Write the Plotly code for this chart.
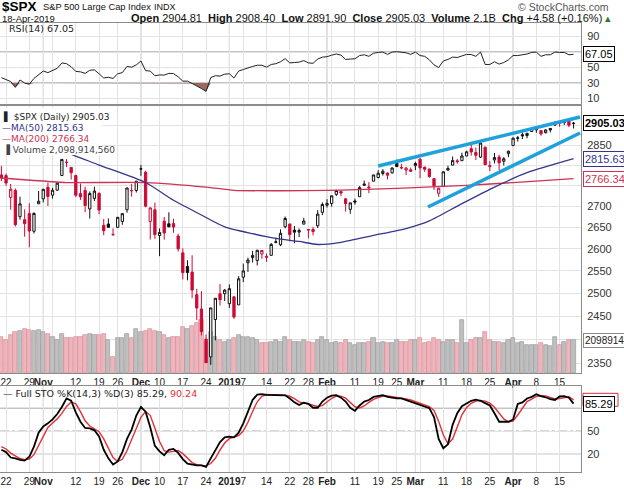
import math
import plotly.graph_objects as go

# ---------------- data ----------------
trade_days = [
    ("2018-10", [19, 22, 23, 24, 25, 26, 29, 30, 31]),
    ("2018-11", [1, 2, 5, 6, 7, 8, 9, 12, 13, 14, 15, 16, 19, 20, 21, 23, 26, 27, 28, 29, 30]),
    ("2018-12", [3, 4, 6, 7, 10, 11, 12, 13, 14, 17, 18, 19, 20, 21, 24, 26, 27, 28, 31]),
    ("2019-01", [2, 3, 4, 7, 8, 9, 10, 11, 14, 15, 16, 17, 18, 22, 23, 24, 25, 28, 29, 30, 31]),
    ("2019-02", [1, 4, 5, 6, 7, 8, 11, 12, 13, 14, 15, 19, 20, 21, 22, 25, 26, 27, 28]),
    ("2019-03", [1, 4, 5, 6, 7, 8, 11, 12, 13, 14, 15, 18, 19, 20, 21, 22, 25, 26, 27, 28, 29]),
    ("2019-04", [1, 2, 3, 4, 5, 8, 9, 10, 11, 12, 15, 16, 17, 18]),
]
dates = [f"{ym}-{d:02d}" for ym, ds in trade_days for d in ds]

prev_close = 2768.78

opens = [2775.66, 2773.94, 2721.03, 2737.87, 2674.88, 2667.86, 2682.65, 2640.68, 2705.60,
         2717.58, 2745.45, 2726.37, 2738.40, 2774.13, 2806.38, 2794.10, 2773.93, 2730.05, 2737.90, 2693.52,
         2718.54, 2730.74, 2654.60, 2657.74, 2633.36, 2649.97, 2663.75, 2691.45, 2736.97, 2737.76,
         2790.50, 2782.43, 2663.51, 2691.26, 2630.86, 2664.44, 2658.23, 2658.70, 2629.68, 2590.75,
         2559.90, 2547.05, 2496.77, 2465.38, 2400.56, 2363.12, 2442.50, 2498.77, 2498.94,
         2476.96, 2491.92, 2474.33, 2535.61, 2568.11, 2580.00, 2573.51, 2588.11, 2580.31, 2585.10,
         2614.75, 2609.28, 2651.27, 2657.88, 2643.48, 2638.84, 2657.44, 2644.97, 2644.89, 2653.62, 2685.49,
         2702.32, 2706.49, 2728.34, 2735.05, 2717.53, 2692.36, 2712.40, 2722.61, 2750.30, 2743.50,
         2760.24, 2769.28, 2779.05, 2780.24, 2780.67, 2804.35, 2792.36, 2787.50, 2788.11,
         2798.22, 2814.37, 2794.41, 2790.27, 2766.53, 2730.79, 2747.61, 2787.34, 2799.78, 2810.38,
         2810.79, 2822.61, 2840.76, 2831.34, 2819.72, 2844.52, 2796.01, 2812.66, 2819.72, 2809.40, 2828.27,
         2848.63, 2868.24, 2876.09, 2873.99, 2884.16, 2888.46, 2886.58, 2881.37, 2891.92, 2900.86,
         2908.32, 2912.26, 2916.04, 2904.81]
highs = [2797.77, 2778.94, 2753.59, 2742.59, 2722.70, 2692.38, 2706.85, 2685.43, 2736.69,
         2741.67, 2756.55, 2744.27, 2756.82, 2815.15, 2814.75, 2794.10, 2775.99, 2754.60, 2746.80, 2735.38,
         2746.75, 2733.16, 2669.44, 2670.73, 2647.55, 2674.35, 2682.53, 2744.00, 2753.75, 2760.88,
         2800.18, 2785.93, 2696.15, 2708.54, 2647.51, 2674.35, 2685.44, 2670.19, 2635.07, 2601.13,
         2573.99, 2585.29, 2509.63, 2504.41, 2410.34, 2467.76, 2489.10, 2520.27, 2509.24,
         2519.49, 2493.14, 2538.07, 2566.16, 2579.82, 2595.32, 2597.82, 2596.27, 2589.32, 2613.08,
         2625.76, 2645.06, 2675.47, 2657.88, 2653.19, 2647.20, 2672.38, 2644.97, 2650.93, 2690.44, 2708.95,
         2716.66, 2724.99, 2738.98, 2738.08, 2719.32, 2708.07, 2718.05, 2748.19, 2761.85, 2757.90,
         2775.66, 2787.33, 2789.88, 2781.58, 2794.20, 2813.49, 2803.12, 2795.76, 2793.73,
         2808.02, 2816.88, 2796.44, 2790.27, 2767.25, 2744.13, 2784.00, 2798.32, 2821.24, 2815.00,
         2830.73, 2835.41, 2852.42, 2843.54, 2860.31, 2846.16, 2809.79, 2829.87, 2825.56, 2819.71, 2836.03,
         2869.40, 2872.90, 2885.25, 2881.28, 2893.24, 2895.95, 2886.88, 2889.71, 2893.42, 2910.54,
         2909.60, 2916.06, 2918.00, 2908.40]
lows = [2760.27, 2749.22, 2691.43, 2651.89, 2667.84, 2628.16, 2603.54, 2635.34, 2705.60,
        2708.85, 2700.44, 2717.94, 2737.08, 2774.13, 2794.99, 2764.24, 2722.00, 2714.98, 2685.75, 2670.75,
        2712.16, 2681.09, 2631.52, 2649.82, 2631.09, 2649.97, 2655.89, 2684.38, 2722.94, 2732.76,
        2773.38, 2697.18, 2621.53, 2623.14, 2583.23, 2621.30, 2650.26, 2637.27, 2593.84, 2530.54,
        2528.71, 2488.96, 2441.18, 2408.55, 2351.10, 2346.58, 2397.94, 2472.89, 2482.82,
        2467.47, 2443.96, 2474.33, 2524.56, 2547.56, 2568.89, 2562.02, 2577.40, 2570.41, 2585.10,
        2612.68, 2606.36, 2647.58, 2617.27, 2612.86, 2627.01, 2657.33, 2624.06, 2631.05, 2648.34, 2678.65,
        2696.88, 2698.75, 2724.03, 2724.15, 2687.26, 2681.83, 2703.79, 2722.61, 2748.63, 2731.23,
        2760.24, 2767.29, 2774.06, 2764.55, 2779.11, 2794.99, 2789.47, 2775.13, 2782.51,
        2787.38, 2767.66, 2782.97, 2768.69, 2739.09, 2722.27, 2747.61, 2786.73, 2799.78, 2803.46,
        2810.79, 2821.99, 2823.27, 2812.43, 2817.38, 2800.47, 2785.02, 2803.99, 2787.72, 2798.77, 2819.23,
        2848.63, 2858.75, 2865.17, 2867.14, 2882.99, 2880.78, 2873.33, 2879.13, 2881.99, 2898.37,
        2896.48, 2900.71, 2895.45, 2891.90]
closes = [2767.78, 2755.88, 2740.69, 2656.10, 2705.57, 2658.69, 2641.25, 2682.63, 2711.74,
          2740.37, 2723.06, 2738.31, 2755.45, 2813.89, 2806.83, 2781.01, 2726.22, 2722.18, 2701.58, 2730.20,
          2736.27, 2690.73, 2641.89, 2649.93, 2632.56, 2673.45, 2682.17, 2743.79, 2737.80, 2760.17,
          2790.37, 2700.06, 2695.95, 2633.08, 2637.72, 2636.78, 2651.07, 2650.54, 2599.95, 2545.94,
          2546.16, 2506.96, 2467.42, 2416.62, 2351.10, 2467.70, 2488.83, 2485.74, 2506.85,
          2510.03, 2447.89, 2531.94, 2549.69, 2574.41, 2584.96, 2596.64, 2596.26, 2582.61, 2610.30,
          2616.10, 2635.96, 2670.71, 2632.90, 2638.70, 2642.33, 2664.76, 2643.85, 2640.00, 2681.05, 2704.10,
          2706.53, 2724.87, 2737.70, 2731.61, 2706.05, 2707.88, 2709.80, 2744.73, 2753.03, 2745.73,
          2775.60, 2779.76, 2784.70, 2774.88, 2792.67, 2796.11, 2793.90, 2792.38, 2784.49,
          2803.69, 2792.81, 2789.65, 2771.45, 2748.93, 2743.07, 2783.30, 2791.52, 2810.92, 2808.48,
          2822.48, 2832.94, 2832.57, 2824.23, 2854.88, 2800.71, 2798.36, 2818.46, 2805.37, 2815.44, 2834.40,
          2867.19, 2867.24, 2873.40, 2879.39, 2892.74, 2895.77, 2878.20, 2888.21, 2888.32, 2907.41,
          2905.58, 2907.06, 2900.45, 2905.03]
volume_bn = [2.3, 2.1, 2.4, 2.6, 2.7, 2.8, 2.75, 2.7, 2.75,
             2.6, 2.5, 2.3, 2.1, 2.5, 2.2, 2.2, 2.3, 2.3, 2.4, 2.5, 2.4, 2.4, 2.5, 2.1, 1.0, 2.2, 2.2, 2.5, 2.2, 2.8,
             2.6, 2.7, 2.8, 2.7, 2.6, 2.4, 2.2, 2.3, 2.3, 2.9, 2.8, 3.0, 3.2, 3.4, 2.0, 2.6, 2.3, 2.1, 2.0,
             2.1, 2.2, 2.4, 2.3, 2.3, 2.2, 2.1, 1.9, 1.9, 2.0, 2.1, 2.0, 2.3, 2.1, 2.0, 2.0, 2.1, 2.0, 1.9, 2.1, 2.3,
             2.1, 1.9, 2.0, 1.9, 2.1, 1.9, 1.8, 1.9, 1.9, 2.0, 2.2, 1.9, 2.0, 1.9, 1.9, 2.1, 2.0, 2.0, 2.1,
             2.1, 2.2, 1.9, 2.0, 2.2, 2.1, 2.0, 2.1, 2.1, 1.9, 3.4, 1.9, 2.1, 2.2, 2.2, 2.6, 2.1, 2.0, 2.0, 1.9, 2.1,
             2.2, 1.9, 2.0, 1.8, 1.8, 1.8, 1.9, 1.8, 1.7, 2.3, 1.8, 2.0, 2.1, 2.0989]
rsi14 = [37, 34, 32, 24.5, 34, 30, 28.5, 36, 41, 45.5,
         43.5, 46, 49, 56, 55, 51, 45, 44.5, 42.5, 46.5,
         47, 42, 36.5, 37.5, 36, 42, 43.5, 51.5, 50.5, 53.5,
         58.5, 46, 45.5, 39.5, 40.5, 40.3, 42.5, 42.3, 38, 32.5,
         32.5, 29.5, 26.5, 23, 19.3, 37, 39.5, 39, 41.5, 42,
         36.5, 45.5, 47.5, 50, 51.5, 53, 53, 50.5, 54, 55,
         57.5, 61.5, 56, 56.5, 57, 59, 56, 55.5, 61, 63.5,
         64, 66, 67.5, 66, 60.5, 61, 61.3, 65.5, 66.5, 64.5,
         68.5, 69.5, 70, 67, 70, 70.5, 69.5, 69, 67, 70,
         65.5, 64.5, 60, 53.5, 50, 58.5, 60.5, 63.5, 63, 65,
         67, 66.8, 64.5, 70, 54, 54, 57.5, 54.5, 56.5, 60,
         65.5, 65.5, 66.5, 67.5, 69.5, 70, 64.5, 66.5, 66.5, 70,
         69.5, 69.5, 66.5, 67.05]
sto_k = [26, 23, 16, 15, 13, 12, 17, 30, 48, 56,
         60, 65, 72, 81, 92, 89, 74, 62, 54, 53.5,
         51, 43, 26, 15, 7, 11, 23, 40, 52, 70,
         81, 75, 55, 31, 24, 19, 26, 27, 22, 14,
         8, 6.5, 6, 6, 4, 15, 26, 36, 42, 43,
         42, 48, 60, 76, 90, 97, 97.5, 96.5, 96.5, 96.5,
         96.3, 96, 92, 87, 83.5, 86.5, 85, 80, 80, 88,
         93, 95.5, 96.3, 93, 88, 80, 76, 83, 88, 90,
         94, 95, 96.3, 94, 92.5, 92, 92, 90, 88, 86,
         83, 82, 79.5, 68, 40, 28, 33, 58, 73, 82,
         86, 89, 90.5, 89, 86, 83, 73, 62, 62, 62,
         65, 85, 87, 92, 94, 97.5, 95, 93.5, 91, 90,
         94.5, 95, 93, 85.29]
sto_d = [30, 27, 21.7, 18, 14.7, 13.3, 14, 19.7, 31.7, 44.7,
         54.7, 60.3, 65.7, 72.7, 81.7, 87.3, 85, 75, 63.3, 56.5,
         52.8, 49.2, 40, 28, 16, 11, 13.7, 24.7, 38.3, 54,
         67.7, 75.3, 70.3, 53.7, 36.7, 24.7, 23, 24, 25, 21,
         14.7, 9.5, 6.8, 6.2, 5.3, 8.3, 15, 25.7, 34.7, 40.3,
         42.3, 44.3, 50, 61.3, 75.3, 87.7, 94.8, 97, 96.8, 96.5,
         96.4, 96.3, 94.8, 91.7, 87.5, 85.7, 85, 83.8, 81.7, 82.7,
         87, 92.2, 94.9, 94.9, 92.4, 87, 81.3, 79.7, 82.3, 87,
         90.7, 93, 95.1, 95.1, 94.3, 92.8, 92.2, 91.3, 90, 88,
         85.7, 83.7, 81.5, 76.5, 62.5, 45.3, 33.7, 39.7, 54.7, 71,
         80.3, 85.7, 88.5, 89.5, 88.5, 86, 80.7, 72.7, 65.7, 62,
         63, 70.7, 79, 88, 91, 94.5, 95.5, 95.3, 93.2, 91.5,
         91.8, 93.2, 94.2, 90.24]

# moving averages read at sample days
ma50_dates = ["2018-10-19", "2018-10-26", "2018-11-02", "2018-11-08", "2018-11-19", "2018-12-04",
              "2018-12-13", "2018-12-21", "2018-12-31", "2019-01-09", "2019-01-16", "2019-01-24",
              "2019-01-30", "2019-02-06", "2019-02-15", "2019-02-27", "2019-03-06", "2019-03-15",
              "2019-03-26", "2019-04-04", "2019-04-18"]
ma50_vals = [2880, 2862, 2845, 2831, 2800, 2757, 2714, 2679, 2651, 2635, 2624, 2617, 2610, 2615,
             2631, 2647, 2665, 2706, 2746, 2781, 2815.63]
ma200_dates = ["2018-10-19", "2018-10-30", "2018-11-08", "2018-12-04", "2018-12-24", "2019-01-03",
               "2019-01-17", "2019-02-01", "2019-02-15", "2019-03-04", "2019-03-18", "2019-04-01",
               "2019-04-18"]
ma200_vals = [2768, 2762, 2757, 2757, 2746, 2738, 2737, 2738, 2741, 2745, 2750, 2757, 2766.34]

# trend lines (drawn on chart): day position, price
trend_upper_x = [81, 124.4]
trend_upper_y = [2797.6, 2921.4]
trend_lower_x = [91.7, 124.4]
trend_lower_y = [2698.0, 2880.4]

# x-axis ticks
tick_dates = ["2018-10-22", "2018-10-29", "2018-11-01", "2018-11-05", "2018-11-12", "2018-11-19",
              "2018-11-26", "2018-12-03", "2018-12-10", "2018-12-17", "2018-12-24", "2019-01-02",
              "2019-01-07", "2019-01-14", "2019-01-22", "2019-01-28", "2019-02-01", "2019-02-04",
              "2019-02-11", "2019-02-19", "2019-02-25", "2019-03-01", "2019-03-04", "2019-03-11",
              "2019-03-18", "2019-03-25", "2019-04-01", "2019-04-08", "2019-04-15"]
tick_labels = ["22", "29", "<b>Nov</b>", "", "12", "19", "26", "<b>Dec</b>", "10", "17", "24",
               "<b>2019</b>", "7", "14", "22", "28", "<b>Feb</b>", "", "11", "19", "25", "<b>Mar</b>",
               "", "11", "18", "25", "<b>Apr</b>", "8", "15"]
month_dates = ["2018-11-01", "2018-12-03", "2019-01-02", "2019-02-01", "2019-03-01", "2019-04-01"]

price_ticks = [2350, 2400, 2450, 2500, 2550, 2600, 2650, 2700, 2750, 2800, 2850, 2900]
price_tick_text = ["2350", "", "2450", "2500", "2550", "2600", "2650", "2700", "", "", "2850", ""]
rsi_ticks = [10, 30, 50, 70, 90]
rsi_tick_text = ["10", "30", "50", "", "90"]
rsi_levels = [30, 70]
sto_ticks = [20, 50, 80]
sto_tick_text = ["20", "50", ""]
sto_levels = [20, 80]

# ---------------- geometry ----------------
W, H = 624, 489
PR, PT, PB = 581, 23, 472


def xp(px):
    return px / PR


def yp(py):
    return (PB - py) / (PB - PT)


RED = "#cc0a35"
BLK = "#111111"
NAVY = "#34348c"
CRIM = "#cc3355"
CYAN = "#1fa2dc"
GRID = "#e3e3e3"
MONTH = "#bdbdbd"
AX = "#8c8c8c"
STO_RED = "#e0303a"
FONT = "Liberation Sans"
LFONT = "DejaVu Sans"

n = len(closes)
xs = list(range(n))
pos = {d: i for i, d in enumerate(dates)}
prevs = [prev_close] + closes[:-1]

fig = go.Figure()

# volume (base axis of price panel so that candles draw above)
vol_fill = ["#bfbfbf" if c >= p else "#eeb5bc" for c, p in zip(closes, prevs)]
vol_edge = ["#9c9c9c" if c >= p else "#d88e99" for c, p in zip(closes, prevs)]
fig.add_trace(go.Bar(x=xs, y=[v * 1e9 for v in volume_bn], width=0.9,
                     marker=dict(color=vol_fill, line=dict(color=vol_edge, width=0.7)),
                     xaxis="x2", yaxis="y2", hoverinfo="skip", showlegend=False))

# candles: colour by change vs previous close, hollow when close > open
styles = [
    (lambda c, o, p: c >= p and c >= o, BLK, "#ffffff"),
    (lambda c, o, p: c >= p and c < o, BLK, BLK),
    (lambda c, o, p: c < p and c >= o, RED, "#ffffff"),
    (lambda c, o, p: c < p and c < o, RED, RED),
]
for cond, lc, fc in styles:
    idx = [i for i in range(n) if cond(closes[i], opens[i], prevs[i])]
    if not idx:
        continue
    sty = dict(line=dict(color=lc, width=1), fillcolor=fc)
    fig.add_trace(go.Candlestick(
        x=[xs[i] for i in idx], open=[opens[i] for i in idx], high=[highs[i] for i in idx],
        low=[lows[i] for i in idx], close=[closes[i] for i in idx],
        increasing=sty, decreasing=sty, whiskerwidth=0, xaxis="x2", yaxis="y3",
        hoverinfo="skip", showlegend=False))

fig.add_trace(go.Scatter(x=[pos[d] for d in ma200_dates], y=ma200_vals, mode="lines",
                         line=dict(color=CRIM, width=1.3, shape="spline", smoothing=0.6),
                         xaxis="x2", yaxis="y3", hoverinfo="skip", showlegend=False))
fig.add_trace(go.Scatter(x=[pos[d] for d in ma50_dates], y=ma50_vals, mode="lines",
                         line=dict(color=NAVY, width=1.3, shape="spline", smoothing=0.6),
                         xaxis="x2", yaxis="y3", hoverinfo="skip", showlegend=False))
for tx, ty in ((trend_upper_x, trend_upper_y), (trend_lower_x, trend_lower_y)):
    fig.add_trace(go.Scatter(x=tx, y=ty, mode="lines", line=dict(color=CYAN, width=3.6),
                             xaxis="x2", yaxis="y3", hoverinfo="skip", showlegend=False))

# RSI with oversold fill
fig.add_trace(go.Scatter(x=xs, y=[rsi_levels[0]] * n, mode="lines", line=dict(width=0),
                         xaxis="x", yaxis="y", hoverinfo="skip", showlegend=False))
fig.add_trace(go.Scatter(x=xs, y=[min(r, rsi_levels[0]) for r in rsi14], mode="lines",
                         line=dict(width=0), fill="tonexty", fillcolor="#9c6a5c",
                         xaxis="x", yaxis="y", hoverinfo="skip", showlegend=False))
fig.add_trace(go.Scatter(x=xs, y=rsi14, mode="lines", line=dict(color="#222222", width=1),
                         xaxis="x", yaxis="y", hoverinfo="skip", showlegend=False))

# Stochastics
fig.add_trace(go.Scatter(x=xs, y=sto_d, mode="lines", line=dict(color=STO_RED, width=1.4),
                         xaxis="x3", yaxis="y4", hoverinfo="skip", showlegend=False))
fig.add_trace(go.Scatter(x=xs, y=sto_k, mode="lines", line=dict(color="#000000", width=1.8),
                         xaxis="x3", yaxis="y4", hoverinfo="skip", showlegend=False))

# ---------------- axes ----------------
tickpos = [pos[d] for d in tick_dates]
xcommon = dict(range=[-0.3, 124.6], tickmode="array", tickvals=tickpos, ticktext=tick_labels,
               showgrid=True, gridcolor=GRID, gridwidth=1, zeroline=False, showline=True,
               linecolor=AX, linewidth=1, mirror=True, ticks="", fixedrange=True,
               rangeslider=dict(visible=False), tickangle=0, automargin=False,
               tickfont=dict(family=FONT, size=10, color="#222222"), domain=[0, 1])
ycommon = dict(side="right", showgrid=True, gridcolor=GRID, zeroline=False, showline=True,
               linecolor=AX, ticks="", ticklabelstandoff=3, fixedrange=True, automargin=False,
               tickfont=dict(family=FONT, size=11, color="#333333"))

STO_RANGE = [-2.6, 108]
fig.update_layout(
    width=W, height=H, margin=dict(l=0, r=W - PR, t=PT, b=H - PB, autoexpand=False),
    paper_bgcolor="white", plot_bgcolor="white", showlegend=False, hovermode=False,
    xaxis=dict(xcommon, anchor="y", showticklabels=False),
    xaxis2=dict(xcommon, anchor="y2", matches="x", showticklabels=True),
    xaxis3=dict(xcommon, anchor="y4", matches="x", showticklabels=True),
    yaxis=dict(ycommon, domain=[yp(104), 1], range=[3, 107.5], tickvals=rsi_ticks,
               ticktext=rsi_tick_text, anchor="x"),
    yaxis2=dict(domain=[yp(373), yp(106)], range=[0, 17e9], showticklabels=False, showgrid=False,
                zeroline=False, anchor="x2", fixedrange=True, automargin=False),
    yaxis3=dict(ycommon, domain=[yp(373), yp(106)], type="log", overlaying="y2", anchor="x2",
                range=[math.log10(2329.7), math.log10(2950)], tickvals=price_ticks,
                ticktext=price_tick_text),
    yaxis4=dict(ycommon, domain=[0, yp(386)], range=STO_RANGE, tickvals=sto_ticks,
                ticktext=sto_tick_text, anchor="x3"),
    bargap=0,
)

shapes = []
for d in month_dates:
    for xr, yr in (("x", "y domain"), ("x2", "y2 domain"), ("x3", "y4 domain")):
        shapes.append(dict(type="line", xref=xr, yref=yr, x0=pos[d], x1=pos[d], y0=0, y1=1,
                           line=dict(color=MONTH, width=1), layer="below"))
for lv in rsi_levels:
    shapes.append(dict(type="line", xref="paper", yref="y", x0=0, x1=1, y0=lv, y1=lv,
                       line=dict(color="#8a8a8a", width=1.3), layer="below"))
shapes.append(dict(type="line", xref="paper", yref="y", x0=0, x1=1, y0=50, y1=50,
                   line=dict(color="#9a9a9a", width=1, dash="dashdot"), layer="below"))
for lv in sto_levels:
    shapes.append(dict(type="line", xref="paper", yref="y4", x0=0, x1=1, y0=lv, y1=lv,
                       line=dict(color="#8a8a8a", width=1.3), layer="below"))
shapes.append(dict(type="line", xref="paper", yref="y4", x0=0, x1=1, y0=50, y1=50,
                   line=dict(color="#9a9a9a", width=1, dash="dashdot"), layer="below"))
# legend backdrop in the price panel
shapes.append(dict(type="rect", xref="paper", yref="paper", x0=0, x1=xp(102), y0=yp(155), y1=yp(108),
                   fillcolor="white", line=dict(width=0), layer="above"))
# %D value tag, almost hidden behind the %K tag
sto_px = (PB - 386) / (STO_RANGE[1] - STO_RANGE[0])  # pixels per STO unit
half = 6.5 / sto_px
shapes.append(dict(type="rect", xref="paper", yref="y4", x0=xp(PR + 2), x1=xp(PR + 37),
                   y0=sto_d[-1] - half, y1=sto_d[-1] + half, fillcolor="white",
                   line=dict(color=STO_RED, width=1), layer="above"))
fig.update_layout(shapes=shapes)


def note(text, px, py, size=10, color="#111111", family=FONT, anchor="left"):
    fig.add_annotation(x=xp(px), y=yp(py), xref="paper", yref="paper", text=text, showarrow=False,
                       xanchor=anchor, yanchor="middle", font=dict(family=family, size=size, color=color))


# header
note("<b>$SPX</b>", 0, 6.5, size=13.5, color="#000000")
note("S&amp;P 500 Large Cap Index", 41, 7, size=9.3)
note("INDX", 152, 7, size=9)
note("\u00a9 StockCharts.com", 611, 7, size=10.5, color="#555555", anchor="right")
note("18-Apr-2019", 0, 19, size=9.5)
note("<b>Open</b> 2904.81  <b>High</b> 2908.40  <b>Low</b> 2891.90  <b>Close</b> 2905.03  "
     "<b>Volume</b> 2.1B  <b>Chg</b> +4.58 (+0.16%) <span style='color:#2a7a2a'>\u25b4</span>",
     613, 18.5, size=11, anchor="right")

# panel legends
note("RSI(14) 67.05", 7, 29, size=9.5, family=LFONT, color="#222222")
note("\u258c $SPX (Daily) 2905.03", 1, 117, size=9, family=LFONT, color="#222222")
note("<span style='color:" + NAVY + "'>\u2014MA(50) 2815.63</span>", 0, 128, size=9, family=LFONT)
note("<span style='color:" + CRIM + "'>\u2014MA(200) 2766.34</span>", 0, 139, size=9, family=LFONT)
note("\u2590 Volume 2,098,914,560", 1, 149.5, size=9, family=LFONT, color="#444444")
note("\u2014 Full STO %K(14,3) %D(3) 85.29, <span style='color:" + STO_RED + "'>90.24</span>", 1, 393,
     size=9.5, family=LFONT, color="#222222")


def tag(text, yref, yval, border, color, bold=False, size=11):
    fig.add_annotation(x=1, xref="paper", xanchor="left", xshift=2, y=yval, yref=yref,
                       yanchor="middle", text=("<b>" + text + "</b>") if bold else text,
                       showarrow=False, bordercolor=border, borderwidth=1, borderpad=1,
                       bgcolor="white", font=dict(family=FONT, size=size, color=color))


tag("2905.03", "y3", math.log10(closes[-1]), "#000000", "#000000", bold=True)
tag("2815.63", "y3", math.log10(ma50_vals[-1]), NAVY, NAVY)
tag("2766.34", "y3", math.log10(ma200_vals[-1]), CRIM, CRIM)
tag("2098914", "y2", volume_bn[-1] * 1e9, "#888888", "#222222", size=10)
tag("67.05", "y", rsi14[-1], "#000000", "#000000")
tag("85.29", "y4", sto_k[-1], "#000000", "#000000")

fig.write_html("out.html")
